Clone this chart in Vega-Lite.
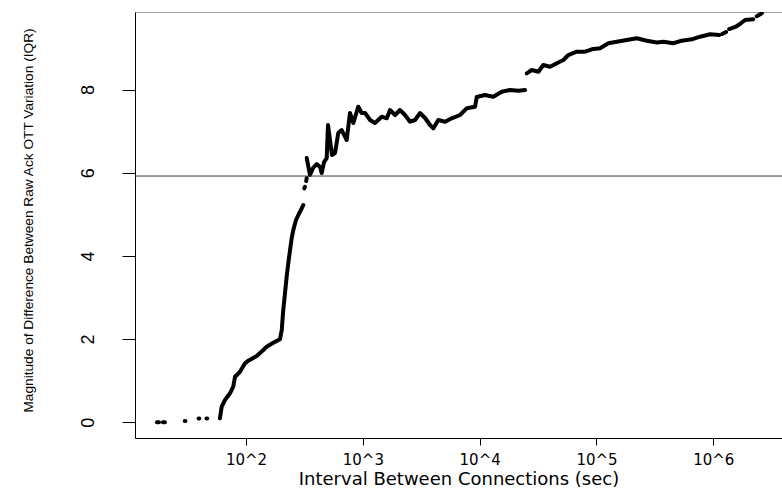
{
  "$schema": "https://vega.github.io/schema/vega-lite/v6.json",
  "width": 647,
  "height": 426,
  "autosize": {"type": "none"},
  "padding": {"left": 135, "top": 12, "right": 0, "bottom": 51},
  "background": "white",
  "config": {
    "view": {"stroke": "#a0a0a0", "strokeWidth": 1},
    "axis": {"grid": false, "domainColor": "#000", "tickColor": "#000", "labelColor": "#000", "titleColor": "#000", "titleFontWeight": "normal", "domainWidth": 1, "tickWidth": 1}
  },
  "layer": [
    {
      "data": {"values": [
        {"interval_log10": 1.238, "iqr_diff": 0.0, "seg": 1},
        {"interval_log10": 1.255, "iqr_diff": 0.0, "seg": 1},
        {"interval_log10": 1.289, "iqr_diff": 0.0, "seg": 2},
        {"interval_log10": 1.306, "iqr_diff": 0.0, "seg": 2},
        {"interval_log10": 1.476, "iqr_diff": 0.03, "seg": 3},
        {"interval_log10": 1.482, "iqr_diff": 0.03, "seg": 3},
        {"interval_log10": 1.594, "iqr_diff": 0.09, "seg": 4},
        {"interval_log10": 1.600, "iqr_diff": 0.09, "seg": 4},
        {"interval_log10": 1.662, "iqr_diff": 0.09, "seg": 5},
        {"interval_log10": 1.668, "iqr_diff": 0.09, "seg": 5},
        {"interval_log10": 1.777, "iqr_diff": 0.096, "seg": 6},
        {"interval_log10": 1.792, "iqr_diff": 0.375, "seg": 6},
        {"interval_log10": 1.820, "iqr_diff": 0.536, "seg": 6},
        {"interval_log10": 1.863, "iqr_diff": 0.697, "seg": 6},
        {"interval_log10": 1.891, "iqr_diff": 0.856, "seg": 6},
        {"interval_log10": 1.906, "iqr_diff": 1.096, "seg": 6},
        {"interval_log10": 1.949, "iqr_diff": 1.216, "seg": 6},
        {"interval_log10": 1.991, "iqr_diff": 1.418, "seg": 6},
        {"interval_log10": 2.020, "iqr_diff": 1.481, "seg": 6},
        {"interval_log10": 2.092, "iqr_diff": 1.594, "seg": 6},
        {"interval_log10": 2.148, "iqr_diff": 1.738, "seg": 6},
        {"interval_log10": 2.177, "iqr_diff": 1.817, "seg": 6},
        {"interval_log10": 2.234, "iqr_diff": 1.913, "seg": 6},
        {"interval_log10": 2.291, "iqr_diff": 1.995, "seg": 6},
        {"interval_log10": 2.306, "iqr_diff": 2.219, "seg": 6},
        {"interval_log10": 2.319, "iqr_diff": 2.700, "seg": 6},
        {"interval_log10": 2.334, "iqr_diff": 3.101, "seg": 6},
        {"interval_log10": 2.348, "iqr_diff": 3.500, "seg": 6},
        {"interval_log10": 2.362, "iqr_diff": 3.822, "seg": 6},
        {"interval_log10": 2.377, "iqr_diff": 4.142, "seg": 6},
        {"interval_log10": 2.391, "iqr_diff": 4.423, "seg": 6},
        {"interval_log10": 2.405, "iqr_diff": 4.623, "seg": 6},
        {"interval_log10": 2.428, "iqr_diff": 4.863, "seg": 6},
        {"interval_log10": 2.448, "iqr_diff": 4.983, "seg": 6},
        {"interval_log10": 2.477, "iqr_diff": 5.144, "seg": 6},
        {"interval_log10": 2.491, "iqr_diff": 5.224, "seg": 6},
        {"interval_log10": 2.499, "iqr_diff": 5.625, "seg": 7},
        {"interval_log10": 2.505, "iqr_diff": 5.663, "seg": 7},
        {"interval_log10": 2.515, "iqr_diff": 5.800, "seg": 8},
        {"interval_log10": 2.520, "iqr_diff": 5.873, "seg": 8},
        {"interval_log10": 2.520, "iqr_diff": 6.353, "seg": 9},
        {"interval_log10": 2.533, "iqr_diff": 6.161, "seg": 9},
        {"interval_log10": 2.548, "iqr_diff": 5.945, "seg": 9},
        {"interval_log10": 2.574, "iqr_diff": 6.113, "seg": 9},
        {"interval_log10": 2.605, "iqr_diff": 6.209, "seg": 9},
        {"interval_log10": 2.634, "iqr_diff": 6.137, "seg": 9},
        {"interval_log10": 2.648, "iqr_diff": 5.993, "seg": 9},
        {"interval_log10": 2.668, "iqr_diff": 6.257, "seg": 9},
        {"interval_log10": 2.691, "iqr_diff": 6.353, "seg": 9},
        {"interval_log10": 2.702, "iqr_diff": 7.147, "seg": 9},
        {"interval_log10": 2.719, "iqr_diff": 6.786, "seg": 9},
        {"interval_log10": 2.736, "iqr_diff": 6.425, "seg": 9},
        {"interval_log10": 2.762, "iqr_diff": 6.474, "seg": 9},
        {"interval_log10": 2.790, "iqr_diff": 6.954, "seg": 9},
        {"interval_log10": 2.819, "iqr_diff": 7.026, "seg": 9},
        {"interval_log10": 2.862, "iqr_diff": 6.786, "seg": 9},
        {"interval_log10": 2.890, "iqr_diff": 7.435, "seg": 9},
        {"interval_log10": 2.919, "iqr_diff": 7.195, "seg": 9},
        {"interval_log10": 2.961, "iqr_diff": 7.587, "seg": 9},
        {"interval_log10": 2.990, "iqr_diff": 7.435, "seg": 9},
        {"interval_log10": 3.019, "iqr_diff": 7.435, "seg": 9},
        {"interval_log10": 3.062, "iqr_diff": 7.267, "seg": 9},
        {"interval_log10": 3.104, "iqr_diff": 7.195, "seg": 9},
        {"interval_log10": 3.162, "iqr_diff": 7.346, "seg": 9},
        {"interval_log10": 3.205, "iqr_diff": 7.308, "seg": 9},
        {"interval_log10": 3.233, "iqr_diff": 7.507, "seg": 9},
        {"interval_log10": 3.276, "iqr_diff": 7.387, "seg": 9},
        {"interval_log10": 3.318, "iqr_diff": 7.507, "seg": 9},
        {"interval_log10": 3.361, "iqr_diff": 7.387, "seg": 9},
        {"interval_log10": 3.404, "iqr_diff": 7.226, "seg": 9},
        {"interval_log10": 3.447, "iqr_diff": 7.267, "seg": 9},
        {"interval_log10": 3.490, "iqr_diff": 7.435, "seg": 9},
        {"interval_log10": 3.533, "iqr_diff": 7.315, "seg": 9},
        {"interval_log10": 3.575, "iqr_diff": 7.147, "seg": 9},
        {"interval_log10": 3.604, "iqr_diff": 7.067, "seg": 9},
        {"interval_log10": 3.646, "iqr_diff": 7.267, "seg": 9},
        {"interval_log10": 3.704, "iqr_diff": 7.226, "seg": 9},
        {"interval_log10": 3.761, "iqr_diff": 7.308, "seg": 9},
        {"interval_log10": 3.832, "iqr_diff": 7.387, "seg": 9},
        {"interval_log10": 3.889, "iqr_diff": 7.548, "seg": 9},
        {"interval_log10": 3.961, "iqr_diff": 7.587, "seg": 9},
        {"interval_log10": 3.975, "iqr_diff": 7.820, "seg": 9},
        {"interval_log10": 4.046, "iqr_diff": 7.868, "seg": 9},
        {"interval_log10": 4.117, "iqr_diff": 7.827, "seg": 9},
        {"interval_log10": 4.189, "iqr_diff": 7.947, "seg": 9},
        {"interval_log10": 4.260, "iqr_diff": 7.988, "seg": 9},
        {"interval_log10": 4.331, "iqr_diff": 7.971, "seg": 9},
        {"interval_log10": 4.389, "iqr_diff": 7.988, "seg": 9},
        {"interval_log10": 4.403, "iqr_diff": 8.389, "seg": 10},
        {"interval_log10": 4.446, "iqr_diff": 8.469, "seg": 10},
        {"interval_log10": 4.503, "iqr_diff": 8.428, "seg": 10},
        {"interval_log10": 4.545, "iqr_diff": 8.589, "seg": 10},
        {"interval_log10": 4.603, "iqr_diff": 8.548, "seg": 10},
        {"interval_log10": 4.660, "iqr_diff": 8.630, "seg": 10},
        {"interval_log10": 4.717, "iqr_diff": 8.709, "seg": 10},
        {"interval_log10": 4.759, "iqr_diff": 8.829, "seg": 10},
        {"interval_log10": 4.831, "iqr_diff": 8.909, "seg": 10},
        {"interval_log10": 4.903, "iqr_diff": 8.909, "seg": 10},
        {"interval_log10": 4.960, "iqr_diff": 8.966, "seg": 10},
        {"interval_log10": 5.031, "iqr_diff": 8.990, "seg": 10},
        {"interval_log10": 5.102, "iqr_diff": 9.111, "seg": 10},
        {"interval_log10": 5.174, "iqr_diff": 9.149, "seg": 10},
        {"interval_log10": 5.259, "iqr_diff": 9.190, "seg": 10},
        {"interval_log10": 5.345, "iqr_diff": 9.231, "seg": 10},
        {"interval_log10": 5.431, "iqr_diff": 9.173, "seg": 10},
        {"interval_log10": 5.516, "iqr_diff": 9.130, "seg": 10},
        {"interval_log10": 5.573, "iqr_diff": 9.149, "seg": 10},
        {"interval_log10": 5.658, "iqr_diff": 9.111, "seg": 10},
        {"interval_log10": 5.730, "iqr_diff": 9.173, "seg": 10},
        {"interval_log10": 5.816, "iqr_diff": 9.207, "seg": 10},
        {"interval_log10": 5.887, "iqr_diff": 9.269, "seg": 10},
        {"interval_log10": 5.973, "iqr_diff": 9.327, "seg": 10},
        {"interval_log10": 6.050, "iqr_diff": 9.310, "seg": 10},
        {"interval_log10": 6.075, "iqr_diff": 9.334, "seg": 11},
        {"interval_log10": 6.110, "iqr_diff": 9.382, "seg": 11},
        {"interval_log10": 6.135, "iqr_diff": 9.454, "seg": 12},
        {"interval_log10": 6.195, "iqr_diff": 9.514, "seg": 12},
        {"interval_log10": 6.229, "iqr_diff": 9.575, "seg": 12},
        {"interval_log10": 6.272, "iqr_diff": 9.671, "seg": 12},
        {"interval_log10": 6.343, "iqr_diff": 9.688, "seg": 12},
        {"interval_log10": 6.372, "iqr_diff": 9.763, "seg": 13},
        {"interval_log10": 6.415, "iqr_diff": 9.832, "seg": 13}
      ]},
      "mark": {"type": "line", "color": "#000", "strokeWidth": 4, "strokeCap": "round", "strokeJoin": "round", "clip": true},
      "encoding": {
        "x": {
          "field": "interval_log10", "type": "quantitative",
          "scale": {"domain": [1.05, 6.588], "nice": false, "zero": false},
          "axis": {
            "title": "Interval Between Connections (sec)",
            "values": [2, 3, 4, 5, 6],
            "labelExpr": "'10^' + datum.value",
            "tickSize": 7,
            "labelFont": "DejaVu Sans", "labelFontSize": 15,
            "labelBaseline": "alphabetic", "labelPadding": 19.5,
            "titleFont": "DejaVu Sans", "titleFontSize": 18,
            "titleBaseline": "alphabetic", "titleY": 46.5
          }
        },
        "y": {
          "field": "iqr_diff", "type": "quantitative",
          "scale": {"domain": [-0.377, 9.863], "nice": false, "zero": false},
          "axis": {
            "title": "Magnitude of Difference Between Raw Ack OTT Variation (IQR)",
            "values": [0, 2, 4, 6, 8],
            "tickSize": 13,
            "labelAngle": -90, "labelAlign": "center", "labelBaseline": "alphabetic",
            "labelFont": "Liberation Sans", "labelFontSize": 18, "labelPadding": 29,
            "titleFont": "Liberation Sans", "titleFontSize": 13.7,
            "titleAngle": -90, "titleAlign": "center", "titleBaseline": "alphabetic",
            "titleX": -103, "titleY": 208
          }
        },
        "detail": {"field": "seg", "type": "nominal"}
      }
    },
    {
      "data": {"values": [{"reference_level": 5.92}]},
      "mark": {"type": "rule", "color": "#3a3a3a", "strokeWidth": 1},
      "encoding": {
        "y": {"field": "reference_level", "type": "quantitative"}
      }
    }
  ]
}
